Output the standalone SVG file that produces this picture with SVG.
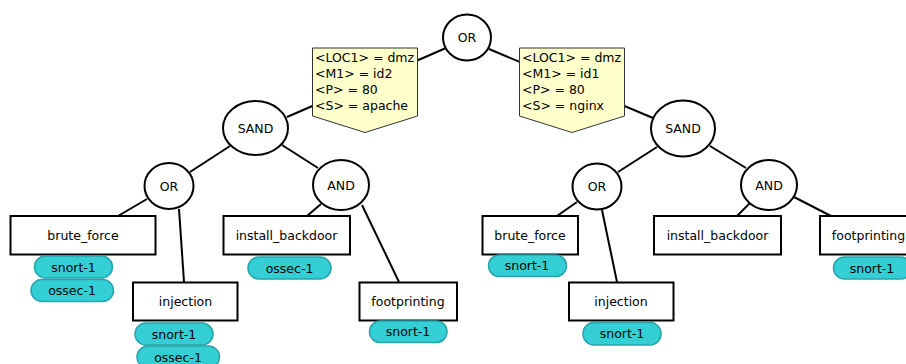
<svg xmlns="http://www.w3.org/2000/svg" width="906" height="364" viewBox="0 0 906 364">
<style>
.op{fill:#fff;stroke:#000;stroke-width:2}
.leaf{fill:#fff;stroke:#000;stroke-width:2}
.lbl{fill:#ffffcc;stroke:#333;stroke-width:1}
.pill{fill:#34ced5;stroke:#27a3a9;stroke-width:1.5}
.e{stroke:#000;stroke-width:2;fill:none}
text{font-family:"DejaVu Sans",sans-serif;fill:#000}
.t{font-size:12.5px;text-anchor:middle}
.s{font-size:12.5px}
</style>
<rect width="906" height="364" fill="#fff"/>
<g id="connectors">
<line class="e" x1="446" y1="48" x2="287" y2="117"/>
<line class="e" x1="489" y1="49" x2="653" y2="118"/>
<line class="e" x1="230" y1="146" x2="190" y2="172"/>
<line class="e" x1="282" y1="145" x2="318" y2="168"/>
<line class="e" x1="147" y1="199" x2="118" y2="216"/>
<line class="e" x1="179" y1="209" x2="184" y2="282"/>
<line class="e" x1="321" y1="204" x2="307" y2="216"/>
<line class="e" x1="362" y1="205" x2="399" y2="282"/>
<line class="e" x1="657" y1="147" x2="618" y2="172"/>
<line class="e" x1="710" y1="146" x2="746" y2="168"/>
<line class="e" x1="577" y1="202" x2="557" y2="216"/>
<line class="e" x1="602" y1="210" x2="617" y2="282"/>
<line class="e" x1="750" y1="203" x2="737" y2="216"/>
<line class="e" x1="794" y1="197" x2="831" y2="216"/>
</g>
<g id="label-left">
<polygon class="lbl" points="312.5,48 417.5,48 417.5,116 365,132.5 312.5,116"/>
<text class="s" x="315" y="61.5">&lt;LOC1&gt; = dmz</text>
<text class="s" x="315" y="77.5">&lt;M1&gt; = id2</text>
<text class="s" x="315" y="93.5">&lt;P&gt; = 80</text>
<text class="s" x="315" y="109.5">&lt;S&gt; = apache</text>
</g>
<g id="label-right">
<polygon class="lbl" points="519.5,48 624.5,48 624.5,116 572,132.5 519.5,116"/>
<text class="s" x="522" y="61.5">&lt;LOC1&gt; = dmz</text>
<text class="s" x="522" y="77.5">&lt;M1&gt; = id1</text>
<text class="s" x="522" y="93.5">&lt;P&gt; = 80</text>
<text class="s" x="522" y="109.5">&lt;S&gt; = nginx</text>
</g>
<g id="root-or">
<ellipse class="op" cx="467" cy="37.5" rx="24" ry="23"/>
<text class="t" x="467" y="42">OR</text>
</g>
<g id="sand-left">
<ellipse class="op" cx="255.5" cy="128" rx="32.5" ry="27"/>
<text class="t" x="255.5" y="132.5">SAND</text>
</g>
<g id="or-left">
<ellipse class="op" cx="169" cy="186" rx="24.5" ry="23"/>
<text class="t" x="169" y="190.5">OR</text>
</g>
<g id="and-left">
<ellipse class="op" cx="341" cy="185" rx="28" ry="25"/>
<text class="t" x="341" y="189.5">AND</text>
</g>
<g id="brute-force-left">
<rect class="leaf" x="10.5" y="216" width="145" height="38.5"/>
<text class="t" x="83" y="240">brute_force</text>
<rect class="pill" x="34.5" y="256" width="78" height="22" rx="11"/>
<text class="t" x="73.5" y="271.5">snort-1</text>
<rect class="pill" x="31" y="279.5" width="82.5" height="22" rx="11"/>
<text class="t" x="72" y="295">ossec-1</text>
</g>
<g id="injection-left">
<rect class="leaf" x="133" y="282.5" width="104.5" height="38"/>
<text class="t" x="185.5" y="306">injection</text>
<rect class="pill" x="135" y="323" width="78" height="22" rx="11"/>
<text class="t" x="174" y="338.5">snort-1</text>
<rect class="pill" x="137" y="346" width="82.5" height="22" rx="11"/>
<text class="t" x="178" y="361.5">ossec-1</text>
</g>
<g id="install-backdoor-left">
<rect class="leaf" x="223.5" y="216" width="126.5" height="38.5"/>
<text class="t" x="286.5" y="240">install_backdoor</text>
<rect class="pill" x="248" y="257" width="83" height="22" rx="11"/>
<text class="t" x="289.5" y="272.5">ossec-1</text>
</g>
<g id="footprinting-left">
<rect class="leaf" x="359.5" y="282.5" width="97.5" height="38"/>
<text class="t" x="408" y="306">footprinting</text>
<rect class="pill" x="369.5" y="321" width="77.5" height="21.5" rx="10.75"/>
<text class="t" x="408" y="336">snort-1</text>
</g>
<g id="sand-right">
<ellipse class="op" cx="683" cy="128.5" rx="32" ry="28"/>
<text class="t" x="683" y="133">SAND</text>
</g>
<g id="or-right">
<ellipse class="op" cx="597" cy="186.5" rx="24.5" ry="23"/>
<text class="t" x="597" y="191">OR</text>
</g>
<g id="and-right">
<ellipse class="op" cx="769" cy="185" rx="28" ry="25"/>
<text class="t" x="769" y="189.5">AND</text>
</g>
<g id="brute-force-right">
<rect class="leaf" x="482.5" y="216" width="95.5" height="38.5"/>
<text class="t" x="530" y="240">brute_force</text>
<rect class="pill" x="488.5" y="255" width="78" height="21.5" rx="10.75"/>
<text class="t" x="527" y="270">snort-1</text>
</g>
<g id="injection-right">
<rect class="leaf" x="569" y="282.5" width="104.5" height="38"/>
<text class="t" x="621" y="306">injection</text>
<rect class="pill" x="583" y="322.5" width="78" height="22.5" rx="11"/>
<text class="t" x="622" y="338">snort-1</text>
</g>
<g id="install-backdoor-right">
<rect class="leaf" x="654" y="216" width="127" height="38.5"/>
<text class="t" x="717.5" y="240">install_backdoor</text>
</g>
<g id="footprinting-right">
<rect class="leaf" x="820" y="216" width="98" height="38.5"/>
<text class="t" x="868.5" y="240">footprinting</text>
<rect class="pill" x="833.5" y="257" width="78" height="22" rx="11"/>
<text class="t" x="872" y="272.5">snort-1</text>
</g>
</svg>
